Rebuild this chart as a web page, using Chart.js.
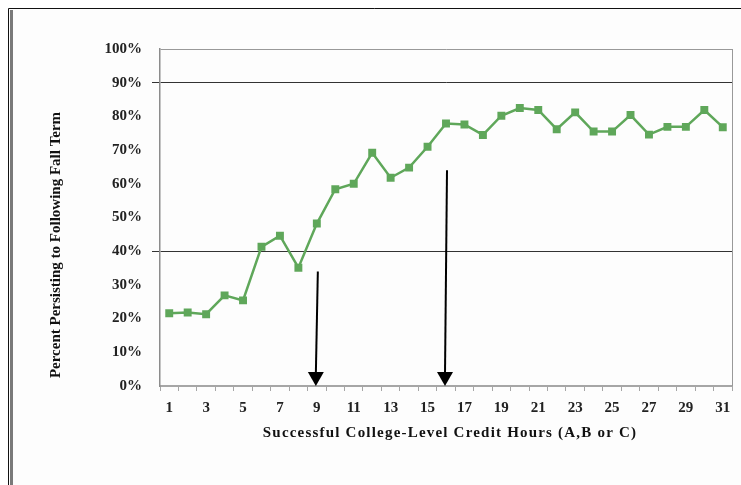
<!DOCTYPE html>
<html lang="en">
<head>
  <meta charset="UTF-8">
  <title>Persistence by Credit Hours</title>
  <script src="https://cdn.jsdelivr.net/npm/chart.js"></script>
  <style>
    html, body { margin: 0; padding: 0; background: #fff; }
    #box { width: 741px; height: 485px; position: relative; }
  </style>
</head>
<body>
  <div id="box"><canvas id="persistChart"></canvas></div>
  <script>
    // data
    const creditHours = ['1','2','3','4','5','6','7','8','9','10','11','12','13','14','15','16',
                         '17','18','19','20','21','22','23','24','25','26','27','28','29','30','31'];
    const persistPct = [21.6, 21.8, 21.3, 26.9, 25.4, 41.3, 44.6, 35.1, 48.2, 58.4, 60.0, 69.2,
                        61.8, 64.8, 71.0, 77.9, 77.6, 74.5, 80.2, 82.5, 81.9, 76.2, 81.2, 75.5,
                        75.5, 80.4, 74.6, 76.9, 76.9, 81.9, 76.8];
    const yTicks = [0, 10, 20, 30, 40, 50, 60, 70, 80, 90, 100];
    const darkLines = [40, 90];
    // arrows: category they point at, and value where the shaft starts
    const arrowHours = ['9', '16'];
    const arrowFrom = [34, 64];

    const xTitle = 'Successful College-Level Credit Hours (A,B or C)';
    const yTitle = 'Percent Persisting to Following Fall Term';

    const green = '#5fa75a';
    const serif = "'Liberation Serif', 'DejaVu Serif', serif";

    const extras = {
      id: 'extras',
      beforeDraw(chart) {
        const c = chart.ctx;
        c.save();
        // outer frame
        c.fillStyle = '#fdfdfd';
        c.fillRect(9, 9, 732, 476);
        c.strokeStyle = '#111';
        c.lineWidth = 1;
        c.beginPath();
        c.moveTo(8.5, 485); c.lineTo(8.5, 8.5); c.lineTo(741, 8.5);
        c.stroke();
        c.fillStyle = '#7a7a7a';
        c.fillRect(10, 10, 3, 475);
        c.restore();
      },
      afterDraw(chart) {
        const c = chart.ctx, a = chart.chartArea;
        const x = chart.scales.x, y = chart.scales.y;
        c.save();
        // right edge of the plot box
        c.strokeStyle = '#999';
        c.lineWidth = 1;
        c.beginPath();
        c.moveTo(a.right + 0.5, a.top); c.lineTo(a.right + 0.5, a.bottom);
        c.stroke();

        // arrows
        c.strokeStyle = '#000';
        c.fillStyle = '#000';
        c.lineWidth = 2;
        arrowHours.forEach((h, i) => {
          const px = x.getPixelForValue(creditHours.indexOf(h));
          const top = y.getPixelForValue(arrowFrom[i]);
          const tip = y.getPixelForValue(0);
          c.beginPath();
          c.moveTo(px + 1, top); c.lineTo(px - 1, tip - 12);
          c.stroke();
          c.beginPath();
          c.moveTo(px - 1, tip); c.lineTo(px - 9, tip - 14); c.lineTo(px + 7, tip - 14);
          c.closePath();
          c.fill();
        });

        // axis titles
        c.fillStyle = '#111';
        c.font = 'bold 15px ' + serif;
        c.textAlign = 'center';
        c.textBaseline = 'middle';
        c.letterSpacing = '1.2px';
        c.fillText(xTitle, 450, 433);
        c.letterSpacing = '0px';
        c.translate(56, 245);
        c.rotate(-Math.PI / 2);
        c.fillText(yTitle, 0, 0);
        c.restore();
      }
    };

    new Chart(document.getElementById('persistChart'), {
      type: 'line',
      data: {
        labels: creditHours,
        datasets: [{
          data: persistPct,
          borderColor: green,
          backgroundColor: green,
          borderWidth: 2.5,
          pointStyle: 'rect',
          pointRadius: 5.6,
          pointHoverRadius: 5.6,
          pointBorderWidth: 0,
          tension: 0
        }]
      },
      options: {
        responsive: true,
        maintainAspectRatio: false,
        animation: false,
        layout: { padding: { top: 49, right: 9, left: 0, bottom: 0 } },
        plugins: { legend: { display: false }, tooltip: { enabled: false } },
        scales: {
          x: {
            offset: true,
            afterFit: s => { s.height = 99; },
            border: { display: true, color: '#a6a6a6', width: 2 },
            grid: { offset: true, drawOnChartArea: false, drawTicks: true, tickLength: 5, color: '#a6a6a6' },
            ticks: {
              autoSkip: false, maxRotation: 0, padding: 8, color: '#222',
              font: { family: serif, size: 15, weight: 'bold' },
              callback: (v, i) => (i % 2 === 0 ? creditHours[i] : '')
            }
          },
          y: {
            min: 0, max: 100,
            afterFit: s => { s.width = 160; },
            afterBuildTicks: s => { s.ticks = yTicks.map(v => ({ value: v })); },
            border: { display: true, color: '#8c8c8c', width: 1.5 },
            grid: {
              tickLength: 8,
              color: ctx => darkLines.includes(ctx.tick.value) ? '#333' : (ctx.tick.value === 100 ? '#999' : 'transparent'),
              tickColor: ctx => darkLines.includes(ctx.tick.value) ? '#333' : 'transparent'
            },
            ticks: {
              padding: 10, color: '#222',
              font: { family: serif, size: 15, weight: 'bold' },
              callback: v => v + '%'
            }
          }
        }
      },
      plugins: [extras]
    });
  </script>
</body>
</html>
